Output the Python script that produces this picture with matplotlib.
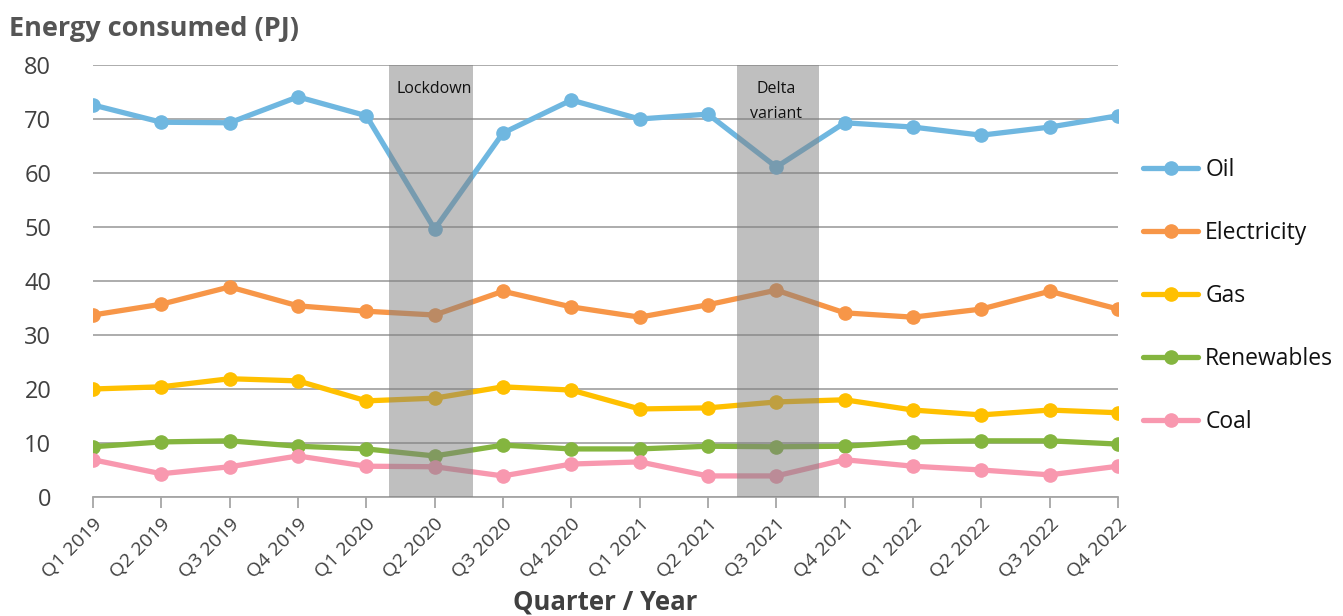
import matplotlib.pyplot as plt

quarters = ['Q1 2019', 'Q2 2019', 'Q3 2019', 'Q4 2019',
            'Q1 2020', 'Q2 2020', 'Q3 2020', 'Q4 2020',
            'Q1 2021', 'Q2 2021', 'Q3 2021', 'Q4 2021',
            'Q1 2022', 'Q2 2022', 'Q3 2022', 'Q4 2022']

oil = [72.6, 69.4, 69.3, 74.1, 70.6, 49.6, 67.4, 73.5,
       70.0, 70.9, 61.1, 69.3, 68.5, 67.0, 68.5, 70.6]
electricity = [33.7, 35.7, 38.9, 35.4, 34.4, 33.7, 38.1, 35.2,
               33.3, 35.6, 38.3, 34.1, 33.3, 34.8, 38.1, 34.8]
gas = [20.0, 20.4, 21.9, 21.5, 17.8, 18.3, 20.4, 19.8,
       16.3, 16.5, 17.6, 18.0, 16.1, 15.2, 16.1, 15.6]
renewables = [9.3, 10.2, 10.4, 9.4, 8.9, 7.6, 9.6, 8.9,
              8.9, 9.4, 9.3, 9.4, 10.2, 10.4, 10.4, 9.8]
coal = [6.9, 4.3, 5.6, 7.6, 5.7, 5.6, 3.9, 6.1,
        6.5, 3.9, 3.9, 6.9, 5.7, 5.0, 4.1, 5.7]

series = [('Oil', oil, '#6fb7e0'),
          ('Electricity', electricity, '#f79648'),
          ('Gas', gas, '#ffc000'),
          ('Renewables', renewables, '#84b53f'),
          ('Coal', coal, '#f898af')]

# shaded events: (start, end, centre, label) in quarter index units
events = [(4.33, 5.56, 5, 'Lockdown'), (9.42, 10.62, 10, 'Delta\nvariant')]

plt.rcParams['font.family'] = ['Open Sans', 'DejaVu Sans']

fig = plt.figure(figsize=(13.43, 6.16), dpi=100)
ax = fig.add_axes([0.0692, 0.1932, 0.7633, 0.7013])

x = list(range(len(quarters)))
for name, vals, col in series:
  ax.plot(x, vals, color=col, lw=3.8, marker='o', ms=9.5, label=name,
          solid_capstyle='round', zorder=3)

for x0, x1, xc, lab in events:
  ax.axvspan(x0, x1, color='#808080', alpha=0.5, lw=0, zorder=4)
  ax.text(xc, 77.0, lab, ha='center', va='top', fontsize=11.5,
          color='#111111', linespacing=1.7, zorder=5)

ax.set_xlim(0, 15)
ax.set_ylim(0, 80)
ax.set_yticks(range(0, 81, 10))
ax.yaxis.grid(True, color='#a6a6a6', lw=1.3, zorder=1)
ax.set_axisbelow(True)
for s in ['top', 'right', 'left']:
  ax.spines[s].set_visible(False)
ax.spines['bottom'].set_color('#a6a6a6')
ax.spines['bottom'].set_linewidth(1.3)
ax.spines['bottom'].set_zorder(2)
ax.tick_params(axis='y', length=0, labelsize=17, labelcolor='#404040', pad=30)
ax.tick_params(axis='x', length=8, width=1.3, color='#a6a6a6',
               labelsize=14, labelcolor='#404040', pad=5)
ax.set_xticks(x)
ax.set_xticklabels(quarters, rotation=45, ha='right', rotation_mode='anchor')

ax.set_xlabel('Quarter / Year', fontsize=18.5, fontweight='bold',
              color='#404040', labelpad=5)
fig.text(0.007, 0.953, 'Energy consumed (PJ)', fontsize=19.5, fontweight='bold',
         color='#555555', va='center')

leg = fig.legend(loc='center left', bbox_to_anchor=(0.836, 0.52),
                 frameon=False, fontsize=16.5, handlelength=2.4,
                 handletextpad=0.3, labelspacing=1.7)
for t in leg.get_texts():
  t.set_color('#111111')

fig.savefig('out.png', dpi=100)
